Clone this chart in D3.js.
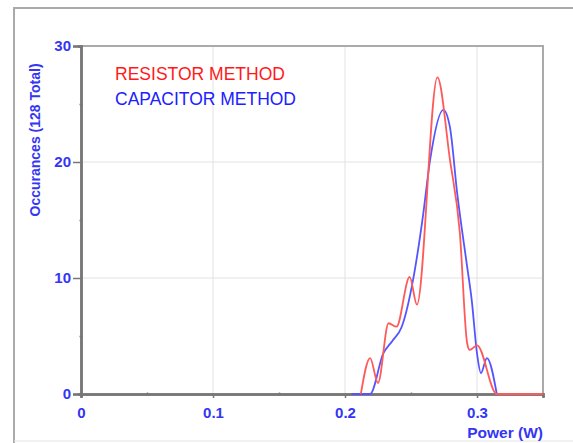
<!DOCTYPE html>
<html>
<head>
<meta charset="utf-8">
<script src="https://cdn.jsdelivr.net/npm/d3@7"></script>
<style>
  body { margin: 0; background: #fff; }
  svg { display: block; }
</style>
</head>
<body>
<div id="chart"></div>
<script>
// power (W) and occurrences
const resistorPower = [0.212, 0.219, 0.225, 0.233, 0.239, 0.249, 0.2545, 0.270, 0.2795, 0.287, 0.2925, 0.2945, 0.300, 0.315, 0.35];
const resistorCount = [0, 3.1, 0.95, 6.1, 5.8, 10.1, 7.7, 27.3, 20.2, 13.9, 4.4, 3.8, 4.2, 0, 0];

const capacitorPower = [0.205, 0.219, 0.229, 0.236, 0.243, 0.2515, 0.259, 0.2645, 0.2745, 0.2795, 0.285, 0.2925, 0.296, 0.300, 0.303, 0.3075, 0.315];
const capacitorCount = [0, 0, 3.5, 4.6, 5.8, 9.8, 15.3, 20.2, 24.5, 23, 17.3, 11, 8.1, 3.5, 1.8, 3.1, 0];

const xTicks = [0, 0.1, 0.2, 0.3];
const xMinor = [0.05, 0.15, 0.25];
const yTicks = [0, 10, 20, 30];
const yMinor = [5, 15, 25];

const legendLabels = ["RESISTOR METHOD", "CAPACITOR METHOD"];
const legendWidths = [170, 181];

const W = 573, H = 443;
const margin = { top: 46, right: 30, bottom: 49, left: 81 },
      width  = W - margin.left - margin.right,
      height = H - margin.top - margin.bottom;

const blue = "#3535f5";
const font = "Liberation Sans, Arial, sans-serif";

const svg = d3.select("#chart")
  .append("svg")
  .attr("width", W)
  .attr("height", H);

// outer frame
svg.append("path")
  .attr("d", `M14,${H} V8 H${W}`)
  .attr("fill", "none")
  .attr("stroke", "#aaa")
  .attr("stroke-width", 2);
svg.append("line")
  .attr("x1", 14).attr("x2", W)
  .attr("y1", 441).attr("y2", 441)
  .attr("stroke", "#e4e4e4");

const g = svg.append("g")
  .attr("transform", `translate(${margin.left},${margin.top})`);

const x = d3.scaleLinear().domain([0, 0.35]).range([0, width]);
const y = d3.scaleLinear().domain([0, 30]).range([height, 0]);

// grid
g.selectAll(".vgrid")
  .data(xTicks.slice(1))
  .join("line")
  .attr("x1", d => x(d)).attr("x2", d => x(d))
  .attr("y1", 0).attr("y2", height)
  .attr("stroke", "#e2e2e2");
g.selectAll(".hgrid")
  .data(yTicks.slice(1, -1))
  .join("line")
  .attr("x1", 0).attr("x2", width)
  .attr("y1", d => y(d)).attr("y2", d => y(d))
  .attr("stroke", "#e2e2e2");

// top and right border
g.append("path")
  .attr("d", `M0,0 H${width} V${height}`)
  .attr("fill", "none")
  .attr("stroke", "#aaa")
  .attr("stroke-width", 2);

// axes
const xAxis = g.append("g")
  .attr("transform", `translate(0,${height})`)
  .call(d3.axisBottom(x).tickValues(xTicks).tickFormat(d3.format("")).tickSize(4).tickPadding(9));
const xAxisMinor = g.append("g")
  .attr("transform", `translate(0,${height})`)
  .call(d3.axisBottom(x).tickValues(xMinor).tickFormat("").tickSize(3));
const yAxis = g.append("g")
  .call(d3.axisLeft(y).tickValues(yTicks).tickSize(8).tickPadding(2));
const yAxisMinor = g.append("g")
  .call(d3.axisLeft(y).tickValues(yMinor).tickFormat("").tickSize(3));

[xAxis, xAxisMinor, yAxis, yAxisMinor].forEach(a => {
  a.select(".domain").attr("stroke", "#777").attr("stroke-width", 2.5);
  a.selectAll(".tick line").attr("stroke", "#777").attr("stroke-width", 1.5);
  a.selectAll("text")
    .attr("fill", blue)
    .attr("font-family", font)
    .attr("font-weight", "bold")
    .attr("font-size", 15);
});
xAxisMinor.selectAll(".tick line").attr("transform", "translate(0,-1.5)");
yAxisMinor.selectAll(".tick line").attr("transform", "translate(1.5,0)");

// axis titles
g.append("text")
  .attr("transform", `translate(-41,${y(21.9)}) rotate(-90)`)
  .attr("text-anchor", "middle")
  .attr("fill", blue)
  .attr("font-family", font)
  .attr("font-weight", "bold")
  .attr("font-size", 14)
  .text("Occurances (128 Total)");

g.append("text")
  .attr("x", width)
  .attr("y", height + 44)
  .attr("text-anchor", "end")
  .attr("fill", blue)
  .attr("font-family", font)
  .attr("font-weight", "bold")
  .attr("font-size", 15.5)
  .text("Power (W)");

// curves
const line = d3.line()
  .x(d => x(d[0]))
  .y(d => y(d[1]))
  .curve(d3.curveMonotoneX);

g.append("path")
  .datum(d3.zip(capacitorPower, capacitorCount))
  .attr("fill", "none")
  .attr("stroke", "#5555ff")
  .attr("stroke-width", 1.8)
  .attr("d", line);

g.append("path")
  .datum(d3.zip(resistorPower, resistorCount))
  .attr("fill", "none")
  .attr("stroke", "#ff5a5a")
  .attr("stroke-width", 1.8)
  .attr("d", line);

// legend
g.selectAll(".legend")
  .data(legendLabels)
  .join("text")
  .attr("x", 34)
  .attr("y", (d, i) => 34 + i * 25)
  .attr("fill", (d, i) => i === 0 ? "#ff1a1a" : "#2020ff")
  .attr("font-family", font)
  .attr("font-size", 19)
  .attr("textLength", (d, i) => legendWidths[i])
  .attr("lengthAdjust", "spacingAndGlyphs")
  .text(d => d);
</script>
</body>
</html>
